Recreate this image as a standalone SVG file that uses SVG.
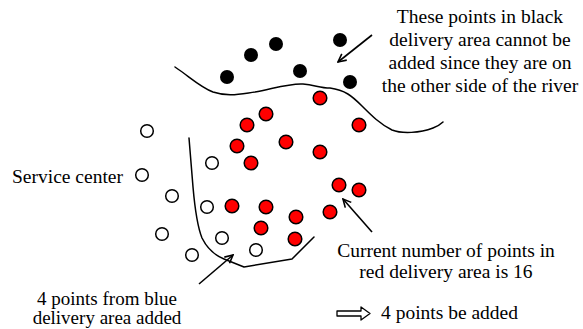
<svg xmlns="http://www.w3.org/2000/svg" width="583" height="329" viewBox="0 0 583 329">
  <style>
    .lbl { font-family: "Liberation Serif", "Times New Roman", serif; font-size: 19.5px; fill: #000; }
    .sm { font-size: 19px; }
    .mid { text-anchor: middle; }
    .line { fill: none; stroke: #000; stroke-width: 1.5; stroke-linecap: round; stroke-linejoin: round; }
    .blk { fill: #000; }
    .red { fill: #ff0000; stroke: #000; stroke-width: 1.5; }
    .wht { fill: #fff; stroke: #000; stroke-width: 1.5; }
    .ptr { fill: none; stroke: #000; stroke-width: 1.6; marker-end: url(#head); }
  </style>
  <defs>
    <marker id="head" viewBox="0 0 10 10" refX="9" refY="5" markerWidth="10" markerHeight="10" markerUnits="userSpaceOnUse" orient="auto">
      <polyline points="1,1 9,5 1,9" fill="none" stroke="#000" stroke-width="1.6"/>
    </marker>
  </defs>
  <rect width="583" height="329" fill="#fff"/>

  <!-- boundaries: river and blue area edge -->
  <g id="boundaries">
    <path id="river" class="line" d="M175,67 C190,77 200,87 213,92 C228,97 240,94 255,92 C272,89 290,83 303,84 C315,85 320,88 330,88 C345,90 352,96 362,106 C372,116 380,124 392,130 C402,134 420,133 433,128 C438,126 441,124 443,122"/>
    <path id="blue-edge" class="line" d="M189,138 L193,187 C195,210 198,228 202,238 C207,248 214,255 224,259 L244,267 L292,259 L314,237"/>
  </g>

  <!-- delivery points -->
  <g id="black-points">
    <circle class="blk" cx="340" cy="40" r="7"/>
    <circle class="blk" cx="276" cy="44" r="7"/>
    <circle class="blk" cx="251" cy="55" r="7"/>
    <circle class="blk" cx="227" cy="77" r="7"/>
    <circle class="blk" cx="300" cy="71" r="7"/>
    <circle class="blk" cx="350" cy="82" r="7"/>
  </g>
  <g id="red-points">
    <circle class="red" cx="320" cy="98" r="6.8"/>
    <circle class="red" cx="266" cy="114" r="6.8"/>
    <circle class="red" cx="247" cy="125" r="6.8"/>
    <circle class="red" cx="359" cy="125" r="6.8"/>
    <circle class="red" cx="237" cy="146" r="6.8"/>
    <circle class="red" cx="286" cy="142" r="6.8"/>
    <circle class="red" cx="320" cy="152" r="6.8"/>
    <circle class="red" cx="251" cy="163" r="6.8"/>
    <circle class="red" cx="339" cy="185" r="6.8"/>
    <circle class="red" cx="359" cy="190" r="6.8"/>
    <circle class="red" cx="232" cy="206" r="6.8"/>
    <circle class="red" cx="266" cy="207" r="6.8"/>
    <circle class="red" cx="296" cy="217" r="6.8"/>
    <circle class="red" cx="330" cy="212" r="6.8"/>
    <circle class="red" cx="261" cy="228" r="6.8"/>
    <circle class="red" cx="295" cy="239" r="6.8"/>
  </g>
  <g id="white-points">
    <circle class="wht" cx="147" cy="131" r="6.3"/>
    <circle class="wht" cx="212" cy="163" r="6.3"/>
    <circle class="wht" cx="142" cy="175" r="6.3"/>
    <circle class="wht" cx="172" cy="196" r="6.3"/>
    <circle class="wht" cx="207" cy="207" r="6.3"/>
    <circle class="wht" cx="162" cy="234" r="6.3"/>
    <circle class="wht" cx="222" cy="238" r="6.3"/>
    <circle class="wht" cx="192" cy="255" r="6.3"/>
    <circle class="wht" cx="256" cy="250" r="6.3"/>
  </g>

  <!-- pointer arrows -->
  <g id="connectors">
    <line class="ptr" x1="372" y1="35" x2="338" y2="62"/>
    <line class="ptr" x1="372" y1="232" x2="343" y2="199"/>
    <line class="ptr" x1="199" y1="284" x2="233" y2="255"/>
  </g>

  <!-- labels -->
  <g id="note-river">
    <text class="lbl mid" x="480" y="23">These points in black</text>
    <text class="lbl mid" x="480" y="46">delivery area cannot be</text>
    <text class="lbl mid" x="480" y="69">added since they are on</text>
    <text class="lbl mid" x="480" y="92">the other side of the river</text>
  </g>
  <g id="service-center">
    <text class="lbl" x="12" y="183">Service center</text>
  </g>
  <g id="note-current">
    <text class="lbl mid" x="446" y="256.5">Current number of points in</text>
    <text class="lbl mid" x="446" y="277.5">red delivery area is 16</text>
  </g>
  <g id="note-blue">
    <text class="lbl sm mid" x="107" y="305">4 points from blue</text>
    <text class="lbl sm mid" x="107" y="324">delivery area added</text>
  </g>
  <g id="note-result">
    <path class="line" style="stroke-width:1.3" d="M337,311 H361 V307 L370,313.5 L361,320 V316 H337 Z"/>
    <text class="lbl" x="381" y="318.5">4 points be added</text>
  </g>
</svg>
